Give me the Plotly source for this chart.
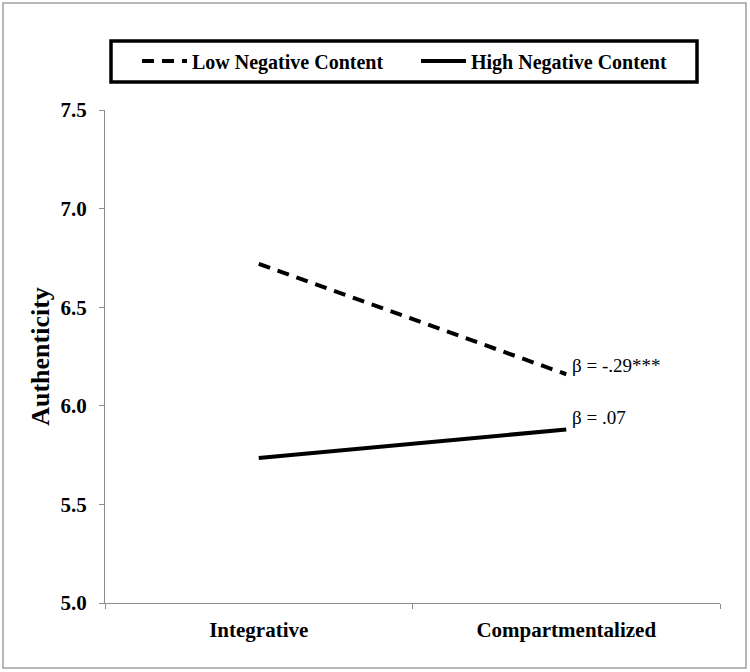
import plotly.graph_objects as go

categories = ["Integrative", "Compartmentalized"]
low_negative = [6.72, 6.16]
high_negative = [5.735, 5.88]
series_names = ["Low Negative Content", "High Negative Content"]
beta_labels = ["β = -.29***", "β = .07"]
y_ticks = [5.0, 5.5, 6.0, 6.5, 7.0, 7.5]

W, H = 750, 672
L, R, T, B = 105, 30, 110, 69
pw, ph = W - L - R, H - T - B

def px(x):
    return (x - L) / pw

def py(y):
    return (H - B - y) / ph

SERIF = "Liberation Serif, Times New Roman, serif"
LEG_FONT = dict(family=SERIF, size=20, color="black", weight="bold")

fig = go.Figure()
fig.add_trace(go.Scatter(
    x=categories, y=low_negative, mode="lines", name=series_names[0],
    line=dict(color="black", width=4, dash="12px,8px"), legend="legend",
))
fig.add_trace(go.Scatter(
    x=categories, y=high_negative, mode="lines", name=series_names[1],
    line=dict(color="black", width=4), legend="legend2",
))

for vals, lab, ys in [(low_negative, beta_labels[0], 9), (high_negative, beta_labels[1], 12)]:
    fig.add_annotation(
        x=categories[1], y=vals[1], text=lab, showarrow=False,
        xanchor="left", yanchor="middle", xshift=4, yshift=ys,
        font=dict(family=SERIF, size=19, color="black"),
    )

fig.add_shape(type="rect", xref="paper", yref="paper",
              x0=px(3), x1=px(746), y0=py(668), y1=py(3),
              line=dict(color="#a0a0a0", width=1.5), layer="below")
fig.add_shape(type="rect", xref="paper", yref="paper",
              x0=px(111), x1=px(697), y0=py(82), y1=py(41),
              line=dict(color="black", width=3.5))

leg_common = dict(orientation="h", xanchor="left", y=py(61), yanchor="middle",
                  borderwidth=0, bgcolor="rgba(0,0,0,0)", font=LEG_FONT, itemwidth=45)

fig.update_layout(
    width=W, height=H,
    margin=dict(l=L, r=R, t=T, b=B),
    paper_bgcolor="white", plot_bgcolor="white",
    font=dict(family=SERIF, color="black"),
    showlegend=True,
    legend=dict(x=px(137), **leg_common),
    legend2=dict(x=px(416), **leg_common),
    xaxis=dict(
        type="category", range=[-0.5, 1.5],
        showline=True, linecolor="#8c8c8c", linewidth=1.2,
        ticks="outside", tickson="boundaries", ticklen=5, tickcolor="#8c8c8c",
        showgrid=False, zeroline=False, ticklabelstandoff=8,
        tickfont=dict(family=SERIF, size=21, color="black", weight="bold"),
    ),
    yaxis=dict(
        range=[5.0, 7.5], tickvals=y_ticks, tickformat=".1f",
        showline=True, linecolor="#8c8c8c", linewidth=1.2,
        ticks="outside", ticklen=5, tickcolor="#8c8c8c",
        showgrid=False, zeroline=False, ticklabelstandoff=8,
        tickfont=dict(family=SERIF, size=21, color="black", weight="bold"),
        title=dict(text="Authenticity", standoff=3,
                   font=dict(family=SERIF, size=26, color="black", weight="bold")),
    ),
)

fig.write_html("out.html", config={"displayModeBar": False},
               post_script="document.body.style.margin='0';")
